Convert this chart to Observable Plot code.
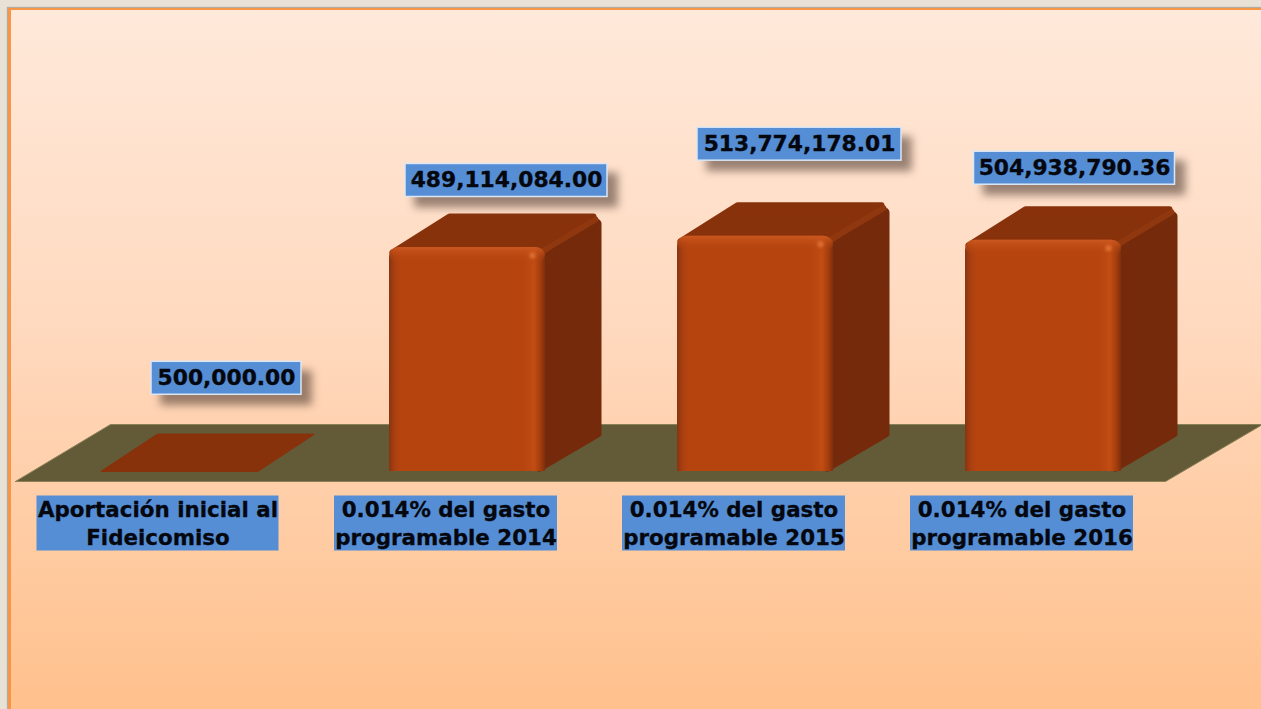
<!DOCTYPE html>
<html lang="es">
<head>
<meta charset="utf-8">
<script src="https://cdn.jsdelivr.net/npm/d3@7"></script>
<script src="https://cdn.jsdelivr.net/npm/@observablehq/plot@0.6"></script>
<style>
  html, body { margin: 0; padding: 0; width: 1261px; height: 709px; overflow: hidden; background: #e8e1d6; }
  #panel { position: absolute; left: 8px; top: 8px; width: 1300px; height: 760px; box-sizing: border-box;
           border: 2px solid #f79646; border-left-width: 3px; box-shadow: -1px -1px 1px #b5aca0;
           background: linear-gradient(to bottom, #ffe9da 0%, #ffdac0 40%, #ffbd85 100%); }
  #chart { position: absolute; left: 0; top: 0; }
  #chart svg { display: block; background: transparent; }
  .value-box { filter: drop-shadow(10px 10px 4px rgba(70,50,40,.55)); }
  .glint { filter: blur(1.5px); }
</style>
</head>
<body>
<div id="panel"></div>
<div id="chart"></div>
<script>
// ---- data ----
const categories = [
  "Aportación inicial al\nFideicomiso",
  "0.014% del gasto\nprogramable 2014",
  "0.014% del gasto\nprogramable 2015",
  "0.014% del gasto\nprogramable 2016"
];
const values = [500000.00, 489114084.00, 513774178.01, 504938790.36];
const valueLabels = ["500,000.00", "489,114,084.00", "513,774,178.01", "504,938,790.36"];

// ---- layout: one pixel expressed in each scale's units ----
const W = 1261, H = 709;
const pxX = 1 / 288;             // category index per pixel
const pxY = 1e6 / 0.458;         // value per pixel
const x0 = 179, y0 = 471;        // pixel position of category 0 at value 0
const halfBar = 78 * pxX;
const depthX = 56 * pxX;
const depthPx = [37, 34, 34, 34];

// label placement, in pixels relative to the category centre and value top
const labelDx = [47, 39, 44, 31];
const labelDy = [93, 67, 92, 72];
const labelW = [150, 202, 204, 201];
const labelH = 33;
const catDx = -21.5, catY = 523, catTextY = 522, catW = 223, catH = 55;

const bars = values.map((v, i) => ({
  i, v, label: valueLabels[i], category: categories[i],
  l: i - halfBar, r: i + halfBar, d: depthPx[i] * pxY,
  lx: i + labelDx[i] * pxX, ly: v + labelDy[i] * pxY
}));
const tall = bars.slice(1);
const flat = bars[0];

const floor = [
  {x: (15 - x0) * pxX, y: (y0 - 481) * pxY},
  {x: (110 - x0) * pxX, y: (y0 - 424) * pxY},
  {x: (W + 1 - x0) * pxX, y: (y0 - 424) * pxY},
  {x: (1165 - x0) * pxX, y: (y0 - 481) * pxY}
];

const sideFaces = tall.flatMap(b => [
  {id: b.i, x: b.r - 6 * pxX, y: b.v - 4 * pxY},
  {id: b.i, x: b.r + depthX - 4 * pxX, y: b.v + b.d - 10 * pxY},
  {id: b.i, x: b.r + depthX - 4 * pxX, y: b.d + 4 * pxY},
  {id: b.i, x: b.r - 6 * pxX, y: 4 * pxY},
  {id: b.i, x: b.r - 6 * pxX, y: b.v - 4 * pxY}
]);
const topFaces = tall.flatMap(b => [
  {id: b.i, x: b.l + 3 * pxX, y: b.v - 5 * pxY},
  {id: b.i, x: b.l + depthX + 4 * pxX, y: b.v + b.d - 3 * pxY},
  {id: b.i, x: b.r + depthX - 8 * pxX, y: b.v + b.d - 3 * pxY},
  {id: b.i, x: b.r - 4 * pxX, y: b.v - 5 * pxY},
  {id: b.i, x: b.l + 3 * pxX, y: b.v - 5 * pxY}
]);
const flatFace = [
  {x: flat.l, y: flat.v},
  {x: flat.l + depthX, y: flat.v + flat.d},
  {x: flat.r + depthX, y: flat.v + flat.d},
  {x: flat.r, y: flat.v},
  {x: flat.l, y: flat.v}
];
const ridges = tall.flatMap(b => [
  {id: b.i, x: b.r - 2 * pxX, y: b.v - 3 * pxY},
  {id: b.i, x: b.r + depthX - 6 * pxX, y: b.v + b.d - 6 * pxY}
]);

const chart = Plot.plot({
  width: W, height: H, margin: 0,
  x: {domain: [(0 - x0) * pxX, (W - x0) * pxX], range: [0, W], axis: null},
  y: {domain: [(y0 - H) * pxY, y0 * pxY], range: [H, 0], axis: null},
  marks: [
    // floor
    Plot.line([...floor, floor[0]], {x: "x", y: "y", fill: "#635a38", stroke: "#8a8056", strokeWidth: 1}),
    // 3D faces
    Plot.line(flatFace, {x: "x", y: "y", fill: "#88320c", stroke: "#88320c", strokeWidth: 1.5, strokeLinejoin: "round"}),
    Plot.line(sideFaces, {x: "x", y: "y", z: "id", fill: "#742a0b", stroke: "#742a0b", strokeWidth: 8, strokeLinejoin: "round"}),
    Plot.line(topFaces, {x: "x", y: "y", z: "id", fill: "#88320c", stroke: "#88320c", strokeWidth: 6, strokeLinejoin: "round"}),
    Plot.line(ridges, {x: "x", y: "y", z: "id", stroke: "#8f370e", strokeWidth: 6, strokeLinecap: "round"}),
    // front faces: rounded top, square foot
    Plot.rectY(tall, {x1: "l", x2: "r", y1: 0, y2: "v", fill: "url(#frontGrad)", rx: 10}),
    Plot.rectY(tall, {x1: "l", x2: "r", y1: 0, y2: d => 30 * pxY, fill: "url(#frontGrad)"}),
    Plot.rectY(tall, {x1: "l", x2: "r", y1: d => d.v - 16 * pxY, y2: "v", fill: "url(#topGlow)", rx: 10}),
    Plot.dot(tall, {x: d => d.r - 13 * pxX, y: d => d.v - 8 * pxY, r: 3, fill: "#dc7235", className: "glint"}),
    // value labels
    Plot.rect(bars, {
      x1: d => d.lx - labelW[d.i] / 2 * pxX, x2: d => d.lx + labelW[d.i] / 2 * pxX,
      y1: d => d.ly - labelH / 2 * pxY, y2: d => d.ly + labelH / 2 * pxY,
      fill: "#558ed5", stroke: "#dbe6f4", strokeWidth: 1.5, className: "value-box"
    }),
    Plot.text(bars, {
      x: "lx", y: "ly", text: "label", fontSize: 21.8, fontWeight: 700,
      fontFamily: "DejaVu Sans", fill: "#05070f", stroke: "#05070f", strokeWidth: 0.35
    }),
    // category labels
    Plot.rect(bars, {
      x1: d => d.i + (catDx - (d.i === 0 ? 121 : catW / 2)) * pxX,
      x2: d => d.i + (catDx + (d.i === 0 ? 121 : catW / 2)) * pxX,
      y1: (y0 - catY - catH / 2) * pxY, y2: (y0 - catY + catH / 2) * pxY,
      fill: "#558ed5"
    }),
    Plot.text(bars, {
      x: d => d.i + catDx * pxX, y: (y0 - catTextY) * pxY, text: "category",
      fontSize: 21.4, fontWeight: 700, lineHeight: 1.31,
      fontFamily: "DejaVu Sans", fill: "#05070f", stroke: "#05070f", strokeWidth: 0.3
    })
  ]
});

const defs = d3.select(chart).insert("defs", ":first-child");
const front = defs.append("linearGradient").attr("id", "frontGrad");
[[0, "#873510"], [0.035, "#a93f10"], [0.07, "#b5440f"], [0.86, "#b5440f"], [0.93, "#c24c13"], [0.97, "#a33d0e"], [1, "#7d300d"]]
  .forEach(([o, c]) => front.append("stop").attr("offset", o).attr("stop-color", c));
const glow = defs.append("linearGradient").attr("id", "topGlow").attr("x1", 0).attr("x2", 0).attr("y1", 0).attr("y2", 1);
[[0, "#cc5a22", 0.9], [0.35, "#c9521a", 0.55], [1, "#b5440f", 0]]
  .forEach(([o, c, a]) => glow.append("stop").attr("offset", o).attr("stop-color", c).attr("stop-opacity", a));

document.getElementById("chart").appendChild(chart);
</script>
</body>
</html>
